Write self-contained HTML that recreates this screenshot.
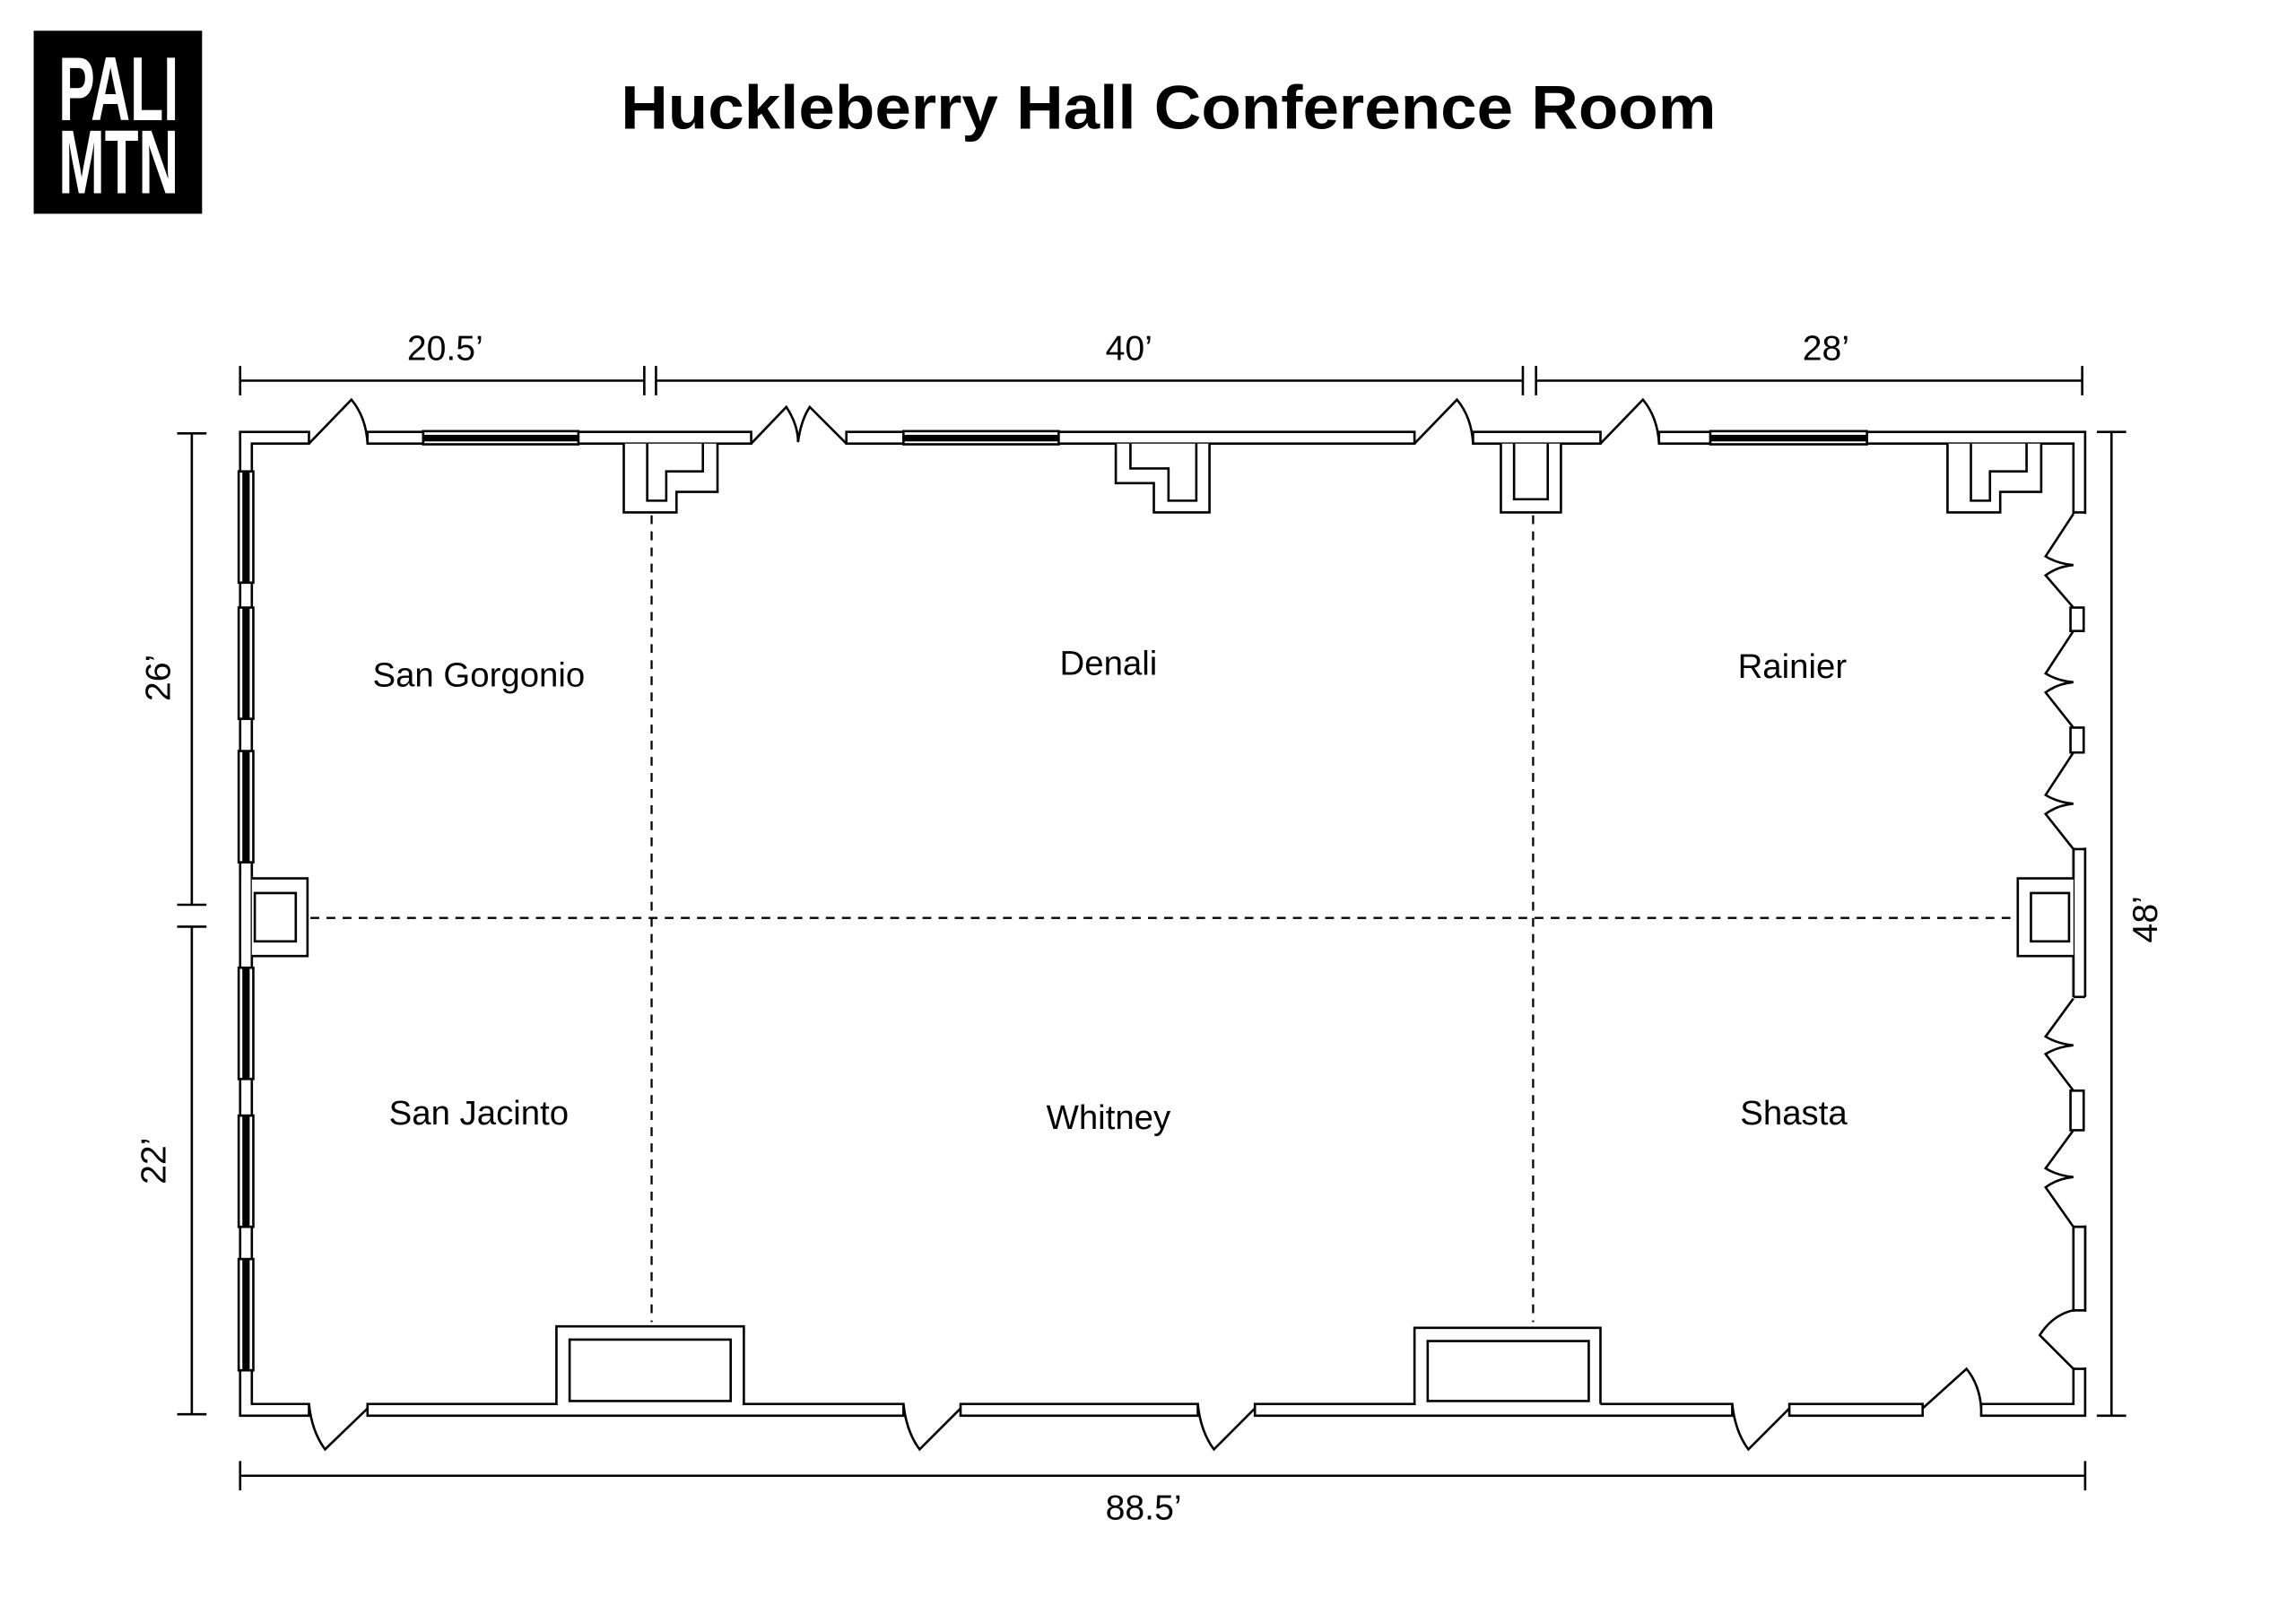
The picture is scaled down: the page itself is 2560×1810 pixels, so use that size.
<!DOCTYPE html>
<html><head><meta charset="utf-8"><style>
html,body{margin:0;padding:0;background:#fff;}
svg{display:block;}
text{font-family:"Liberation Sans",Arial,sans-serif;fill:#000;}
</style></head><body>
<svg width="2560" height="1810" viewBox="0 0 1568 1108.6" preserveAspectRatio="none" xmlns="http://www.w3.org/2000/svg">
<rect x="0" y="0" width="1568" height="1108.6" fill="#fff"/>
<!-- logo -->
<rect x="23" y="21" width="115" height="125" fill="#000"/>
<text x="40" y="82" font-size="62" font-weight="bold" textLength="82" lengthAdjust="spacingAndGlyphs" style="fill:#fff">PALI</text>
<text x="40" y="132" font-size="62" font-weight="bold" textLength="82" lengthAdjust="spacingAndGlyphs" style="fill:#fff">MTN</text>
<text x="424" y="88" font-size="42" font-weight="bold" textLength="748" lengthAdjust="spacingAndGlyphs">Huckleberry Hall Conference Room</text>

<g stroke="#000" stroke-width="1.6" fill="none">
<!-- dimension lines -->
<path d="M164,260H440M164,250V270M440,250V270 M448,260H1040M448,250V270M1040,250V270 M1049,260H1422M1049,250V270M1422,250V270"/>
<path d="M131,296V618M121,296H141M121,618H141 M131,633V966M121,633H141M121,966H141"/>
<path d="M1442,295V967M1432,295H1452M1432,967H1452"/>
<path d="M164,1008H1424M164,998V1018M1424,998V1018"/>

<!-- top wall -->
<path fill="#fff" d="M211,295H164V967H211V959H172V303H211Z"/>
<rect x="251" y="295" width="262" height="8" fill="#fff"/>
<rect x="578" y="295" width="388" height="8" fill="#fff"/>
<rect x="1006" y="295" width="87" height="8" fill="#fff"/>
<path fill="#fff" d="M1133,295H1424V967H1353V959H1416V303H1133Z"/>
<!-- windows top -->
<rect x="289" y="294.5" width="106" height="9" fill="#fff"/>
<rect x="617" y="294.5" width="106" height="9" fill="#fff"/>
<rect x="1168" y="294.5" width="107" height="9" fill="#fff"/>
<!-- doors top -->
<path d="M211,303L240,273Q250,285 251,303"/>
<path d="M513,303L537,278Q545,290 545,302 M545,302Q547,287 553,278L578,303"/>
<path d="M966,303L995,273Q1005,285 1006,303"/>
<path d="M1093,303L1122,273Q1132,285 1133,303"/>
<!-- top pillars -->
<path fill="#fff" d="M426,303V350H462V336H490V303 M442,303V342H455V322H480V303"/>
<path fill="#fff" d="M762,303V330H788V350H826V303 M772,303V320H798V342H817V303"/>
<path fill="#fff" d="M1025,303V350H1066V303 M1034,303V341H1057V303"/>
<path fill="#fff" d="M1330,303V350H1366V336H1394V303 M1346,303V342H1359V322H1384V303"/>

<!-- left wall windows -->
<g fill="#fff">
<rect x="163" y="322" width="10" height="76"/><rect x="163" y="415" width="10" height="76"/><rect x="163" y="513" width="10" height="76"/>
<rect x="163" y="661" width="10" height="76"/><rect x="163" y="762" width="10" height="76"/><rect x="163" y="860" width="10" height="76"/>
</g>
<!-- left pillar -->
<path fill="#fff" d="M172,600H210V653H172 M174,610H202V643H174Z"/>
<rect x="164.8" y="600.8" width="6.4" height="51.4" fill="#fff" stroke="none"/>

<!-- right wall: cut openings -->
<rect x="1415" y="351" width="10" height="228" fill="#fff" stroke="none"/>
<rect x="1415" y="681" width="10" height="156" fill="#fff" stroke="none"/>
<rect x="1415" y="896" width="10" height="38" fill="#fff" stroke="none"/>
<path d="M1416,350H1424 M1416,580H1424 M1416,681H1424 M1416,838H1424 M1416,895H1424 M1416,935H1424"/>
<path d="M1416,580V600 M1416,653V681"/>
<!-- accordion -->
<path d="M1416,351L1397,380Q1405,385 1416,386 M1416,386Q1405,387 1397,393L1416,415"/>
<rect x="1414" y="415" width="9" height="16" fill="#fff"/>
<path d="M1416,431L1397,460Q1405,465 1416,466 M1416,466Q1405,467 1397,473L1416,497"/>
<rect x="1414" y="497" width="9" height="17" fill="#fff"/>
<path d="M1416,514L1397,543Q1405,548 1416,549 M1416,549Q1405,550 1397,556L1416,580"/>
<path d="M1416,682L1397,708Q1405,713 1416,714 M1416,714Q1405,715 1397,720L1416,745"/>
<rect x="1414" y="745" width="9" height="27" fill="#fff"/>
<path d="M1416,772L1397,798Q1405,803 1416,804 M1416,804Q1405,805 1397,811L1416,838"/>
<rect x="1416" y="838" width="8" height="57" fill="#fff"/>
<path d="M1416,935L1393,912Q1402,898 1416,895"/>
<!-- right pillar -->
<path fill="#fff" d="M1416,600H1378V653H1416 M1387,610H1413V643H1387Z"/>

<!-- bottom wall -->
<rect x="251" y="959" width="366" height="8" fill="#fff"/>
<rect x="656" y="959" width="162" height="8" fill="#fff"/>
<rect x="857" y="959" width="326" height="8" fill="#fff"/>
<rect x="1222" y="959" width="91" height="8" fill="#fff"/>
<!-- alcoves -->
<rect x="381" y="957" width="126" height="4" fill="#fff" stroke="none"/>
<path fill="#fff" d="M380,959V906H508V959 M389,957V915H499V957Z"/>
<rect x="967" y="957" width="126" height="4" fill="#fff" stroke="none"/>
<path fill="#fff" d="M966,959V907H1093V959 M975,957V916H1085V957Z"/>
<!-- bottom doors -->
<path d="M211,959Q213,978 222,990L251,962"/>
<path d="M617,959Q619,978 628,990L656,962"/>
<path d="M818,959Q820,978 829,990L857,962"/>
<path d="M1183,959Q1185,978 1194,990L1222,962"/>
<path d="M1313,962L1343,935Q1352,946 1353,962"/>

<!-- dashed -->
<path stroke-dasharray="6,5" stroke-width="1.4" d="M445,352V903 M1047,352V903 M212,627H1376"/>
</g>

<g font-size="24">
<text x="304" y="246" text-anchor="middle">20.5’</text>
<text x="771" y="246" text-anchor="middle">40’</text>
<text x="1247" y="246" text-anchor="middle">28’</text>
<text x="781" y="1038" text-anchor="middle">88.5’</text>
<text transform="translate(116,463) rotate(-90)" text-anchor="middle">26’</text>
<text transform="translate(113,793) rotate(-90)" text-anchor="middle">22’</text>
<text transform="translate(1473,628) rotate(-90)" text-anchor="middle">48’</text>
</g>
<g font-size="23.5" text-anchor="middle">
<text x="327" y="469">San Gorgonio</text>
<text x="757" y="461">Denali</text>
<text x="1224" y="463">Rainier</text>
<text x="327" y="768">San Jacinto</text>
<text x="757" y="771">Whitney</text>
<text x="1225" y="768">Shasta</text>
</g>
<!-- window black bars -->
<g fill="#000">
<rect x="289" y="297" width="106" height="4.5"/><rect x="617" y="297" width="106" height="4.5"/><rect x="1168" y="297" width="107" height="4.5"/>
<rect x="165.5" y="322" width="5" height="76"/><rect x="165.5" y="415" width="5" height="76"/><rect x="165.5" y="513" width="5" height="76"/>
<rect x="165.5" y="661" width="5" height="76"/><rect x="165.5" y="762" width="5" height="76"/><rect x="165.5" y="860" width="5" height="76"/>
</g>
</svg>
</body></html>
